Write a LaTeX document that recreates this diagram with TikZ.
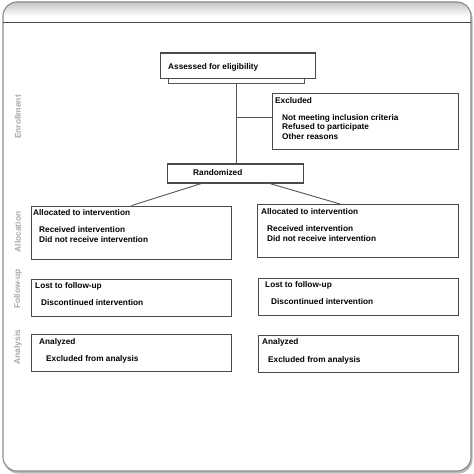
\documentclass[tikz,border=0pt]{standalone}
\usepackage{fontspec}
\setmainfont{Liberation Sans}
\definecolor{boxc}{HTML}{4A4A4A}
\definecolor{linec}{HTML}{555555}
\definecolor{labc}{HTML}{A8A8A8}
\definecolor{framec}{HTML}{8A8A8A}
\definecolor{headc}{HTML}{C4C4C4}
\begin{document}
\begin{tikzpicture}[x=1bp,y=-1bp,
  box/.style={draw=boxc, line width=1.1bp, inner sep=0, fill=white},
  txt/.style={anchor=west, inner sep=0, font=\fontsize{8.3}{9}\selectfont\bfseries},
  lbl/.style={rotate=90, text=labc, inner sep=0, font=\fontsize{8.4}{9}\selectfont\bfseries},
  conn/.style={draw=linec, line width=0.9bp}]
\useasboundingbox (0,0) rectangle (474,474);
% frame
\fill[gray!55, rounded corners=14] (4,4) rectangle (472.5,473.5);
\fill[white, rounded corners=14] (3,2) rectangle (471,471);
\begin{scope}
  \clip[rounded corners=14] (3,2) rectangle (471,471);
  \shade[top color=headc, bottom color=white] (3,2) rectangle (471,16);
  \fill[white] (3,16) rectangle (471,22);
\end{scope}
\draw[framec, line width=1.1bp, rounded corners=14] (3,2) rectangle (471,471);
\draw[boxc, line width=0.9bp] (3,22) -- (471,22);
% side labels
\node[lbl] (lenr) at (18,117) {Enrollment};
\node[lbl] (lall) at (18,232) {Allocation};
\node[lbl] (lfol) at (18,289) {Follow-up};
\node[lbl] (lana) at (18,347) {Analysis};
% boxes
\node[box, minimum width=156, minimum height=26] (assess) at (238,66) {};
\node[box, minimum width=187, minimum height=57] (excl) at (365.5,121.5) {};
\node[box, minimum width=137, minimum height=19] (rand) at (235.5,173.5) {};
\node[box, minimum width=201, minimum height=54] (allocL) at (131.5,233) {};
\node[box, minimum width=202, minimum height=54] (allocR) at (358,231) {};
\node[box, minimum width=201, minimum height=38] (folL) at (131.5,298) {};
\node[box, minimum width=201, minimum height=38] (folR) at (358.5,297) {};
\node[box, minimum width=201, minimum height=38] (anaL) at (131.5,353) {};
\node[box, minimum width=201, minimum height=38] (anaR) at (358.5,354) {};
% texts
\node[txt] (t1) at (168,67) {Assessed for eligibility};
\node[txt] (t2) at (275,101) {Excluded};
\node[txt] (t3) at (282,118) {Not meeting inclusion criteria};
\node[txt] (t4) at (282,127.5) {Refused to participate};
\node[txt] (t5) at (282,137) {Other reasons};
\node[txt] (t6) at (193,173) {Randomized};
\node[txt] (t7) at (33,213) {Allocated to intervention};
\node[txt] (t8) at (39,230) {Received intervention};
\node[txt] (t9) at (39,239.5) {Did not receive intervention};
\node[txt] (t10) at (261,212) {Allocated to intervention};
\node[txt] (t11) at (267,229) {Received intervention};
\node[txt] (t12) at (267,238.5) {Did not receive intervention};
\node[txt] (t13) at (35,286) {Lost to follow-up};
\node[txt] (t14) at (41,303) {Discontinued intervention};
\node[txt] (t15) at (265,285) {Lost to follow-up};
\node[txt] (t16) at (271,302) {Discontinued intervention};
\node[txt] (t17) at (39,342) {Analyzed};
\node[txt] (t18) at (46,359) {Excluded from analysis};
\node[txt] (t19) at (262,342) {Analyzed};
\node[txt] (t20) at (268,360) {Excluded from analysis};
% connectors
\coordinate (b1) at (168,79);
\coordinate (b2) at (168,83);
\coordinate (b3) at (304,83);
\coordinate (b4) at (304,79);
\coordinate (bc) at (236,83);
\coordinate (j) at (236,117);
\coordinate (rl) at (203,183);
\coordinate (rr) at (268,183);
\coordinate (ar) at (340,204);
\draw[conn] (b1) -- (b2) -- (b3) -- (b4);
\draw[conn] (bc) -- (bc |- rand.north);
\draw[conn] (j) -- (j -| excl.west);
\draw[conn] (rl) -- (allocL.north);
\draw[conn] (rr) -- (ar);
\end{tikzpicture}
\end{document}
